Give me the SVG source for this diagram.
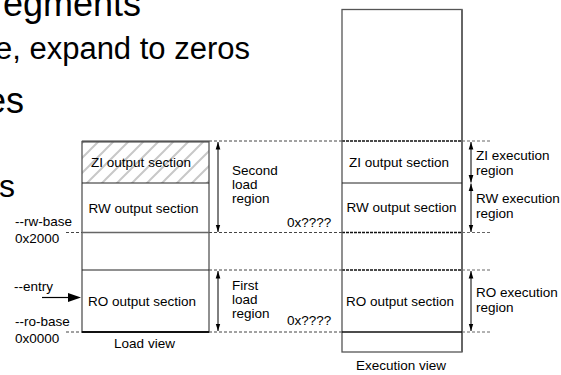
<svg xmlns="http://www.w3.org/2000/svg" width="561" height="375" viewBox="0 0 561 375">
  <style>
    .big { font-family: "Liberation Sans", Arial, sans-serif; fill: #000; }
    .lbl { font-family: "Liberation Sans", Arial, sans-serif; font-size: 13.5px; fill: #000; }
    .mid { text-anchor: middle; }
    .box { fill: none; stroke: #555; stroke-width: 1.3; }
    .div { stroke: #222; stroke-width: 1; }
    .dash { stroke: #444; stroke-width: 1; stroke-dasharray: 3 2; fill: none; }
    .dashd { stroke: #111; stroke-width: 1.6; stroke-dasharray: 3 1; fill: none; }
    .dashl { stroke: #666; stroke-width: 1; stroke-dasharray: 3 2; fill: none; }
    .arr { stroke: #000; stroke-width: 1; marker-start: url(#ah); marker-end: url(#ah); }
  </style>
  <defs>
    <pattern id="hatch" patternUnits="userSpaceOnUse" width="15" height="15">
      <path d="M-4,4 L4,-4 M0,15 L15,0 M11,19 L19,11" stroke="#c8c8c8" stroke-width="2"/>
    </pattern>
    <marker id="ah" viewBox="0 0 8 8" refX="8" refY="4" markerWidth="7.5" markerHeight="7.5" markerUnits="userSpaceOnUse" orient="auto-start-reverse">
      <path d="M0,1.5 L8,4 L0,6.5 Z" fill="#000"/>
    </marker>
  </defs>

  <rect width="561" height="375" fill="#fff"/>

  <!-- clipped slide text behind the diagram -->
  <g id="bullets" class="big">
    <text x="141" y="16" font-size="36" text-anchor="end">egments</text>
    <text x="250" y="59" font-size="31" text-anchor="end">e, expand to zeros</text>
    <text x="24" y="113" font-size="36" text-anchor="end">es</text>
    <text x="15" y="197" font-size="32" text-anchor="end">s</text>
  </g>

  <!-- guide lines and dimension arrows -->
  <g id="connectors">
    <!-- dashed level lines between the two views -->
    <line class="dash" x1="209" y1="141" x2="342" y2="141"/>
    <line class="dash" x1="209" y1="232.5" x2="342" y2="232.5"/>
    <line class="dash" x1="209" y1="270" x2="342" y2="270"/>
    <line class="dash" x1="209" y1="332" x2="342" y2="332"/>
    <!-- short ticks at the base addresses -->
    <line class="dash" x1="66" y1="232.5" x2="82" y2="232.5"/>
    <line class="dash" x1="66" y1="332" x2="82" y2="332"/>
    <!-- levels carried through the execution view -->
    <line class="dashd" x1="342" y1="141" x2="462" y2="141"/>
    <line class="dashd" x1="342" y1="232.5" x2="462" y2="232.5"/>
    <line class="dashd" x1="342" y1="270" x2="462" y2="270"/>
    <line class="dashl" x1="462" y1="141" x2="492" y2="141"/>
    <line class="dashl" x1="462" y1="232.5" x2="492" y2="232.5"/>
    <line class="dashl" x1="462" y1="270" x2="492" y2="270"/>
    <line class="dashl" x1="462" y1="332" x2="492" y2="332"/>
    <!-- load region extents -->
    <line class="arr" x1="218" y1="142" x2="218" y2="232"/>
    <line class="arr" x1="218" y1="271" x2="218" y2="331"/>
    <!-- execution region extents -->
    <line class="arr" x1="471" y1="142" x2="471" y2="182.5"/>
    <line class="arr" x1="471" y1="183.5" x2="471" y2="232"/>
    <line class="arr" x1="471" y1="271" x2="471" y2="331"/>
    <!-- entry point -->
    <line x1="42" y1="297.5" x2="70" y2="297.5" stroke="#000" stroke-width="1.2"/>
    <path d="M68,293 L81,297.5 L68,302 Z" fill="#000"/>
  </g>

  <!-- load view -->
  <g id="load-view">
    <rect x="82" y="141.5" width="127" height="41.5" fill="url(#hatch)"/>
    <rect class="box" x="82" y="141.5" width="127" height="190.5"/>
    <line x1="82" y1="141.5" x2="209" y2="141.5" stroke="#555" stroke-width="2"/>
    <line class="div" x1="82" y1="183" x2="209" y2="183"/>
    <line x1="82" y1="232.5" x2="209" y2="232.5" stroke="#666" stroke-width="1.5"/>
    <line class="div" x1="82" y1="270" x2="209" y2="270"/>
    <line x1="82" y1="332" x2="209" y2="332" stroke="#111" stroke-width="2"/>
    <text class="lbl mid" x="141" y="167">ZI output section</text>
    <text class="lbl mid" x="143.5" y="212.5">RW output section</text>
    <text class="lbl mid" x="142" y="305.5">RO output section</text>
    <text class="lbl mid" x="144.5" y="348">Load view</text>
  </g>

  <!-- address labels on the load view -->
  <g id="load-addresses" class="lbl">
    <text x="15" y="226">--rw-base</text>
    <text x="15" y="243">0x2000</text>
    <text x="14" y="291">--entry</text>
    <text x="15" y="326">--ro-base</text>
    <text x="15" y="343">0x0000</text>
  </g>

  <!-- load region labels -->
  <g id="load-regions" class="lbl">
    <text x="232" y="175">Second</text>
    <text x="232" y="189">load</text>
    <text x="232" y="203">region</text>
    <text x="287" y="227">0x????</text>
    <text x="232" y="290">First</text>
    <text x="232" y="304">load</text>
    <text x="232" y="318">region</text>
    <text x="287" y="325">0x????</text>
  </g>

  <!-- execution view -->
  <g id="execution-view">
    <rect class="box" x="342" y="9.5" width="120" height="342.5"/>
    <line x1="462" y1="9.5" x2="462" y2="352" stroke="#666" stroke-width="2"/>
    <line class="div" x1="342" y1="183" x2="462" y2="183"/>
    <line x1="342" y1="332" x2="462" y2="332" stroke="#111" stroke-width="1.6"/>
    <text class="lbl mid" x="399" y="167">ZI output section</text>
    <text class="lbl mid" x="401.5" y="212">RW output section</text>
    <text class="lbl mid" x="400" y="305.5">RO output section</text>
    <text class="lbl mid" x="401" y="370">Execution view</text>
  </g>

  <!-- execution region labels -->
  <g id="exec-regions" class="lbl">
    <text x="476" y="160">ZI execution</text>
    <text x="476" y="175">region</text>
    <text x="476" y="203">RW execution</text>
    <text x="476" y="218">region</text>
    <text x="476" y="297">RO execution</text>
    <text x="476" y="312">region</text>
  </g>
</svg>
